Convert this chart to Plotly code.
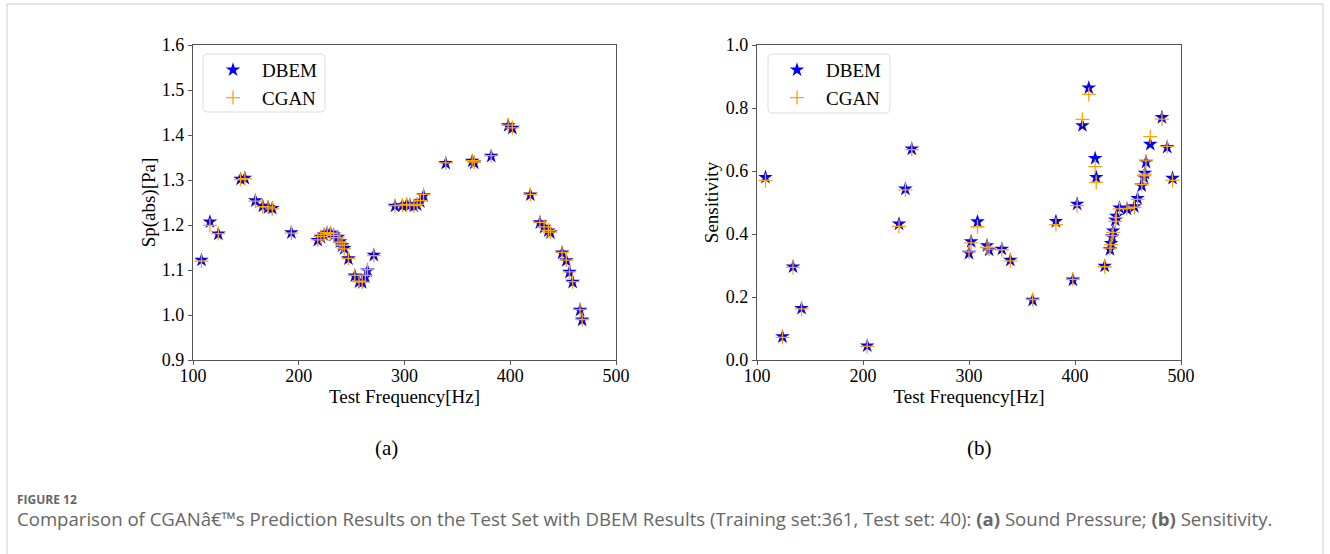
import plotly.graph_objects as go

# ---------------- data (a) Sound pressure ----------------
freq_a = [108, 116, 124, 145, 149, 159, 166, 171, 175, 193,
          218, 221, 224, 227, 230, 233, 237, 239, 241, 243,
          247, 253, 257, 260, 263, 265, 271, 291, 298, 302,
          305, 309, 312, 315, 318, 339, 364, 366, 382, 398,
          402, 419, 428, 432, 436, 438, 449, 453, 456, 459,
          466, 468]
sp_dbem = [1.122, 1.207, 1.180, 1.302, 1.304, 1.254, 1.242, 1.239, 1.237, 1.183,
           1.166, 1.173, 1.178, 1.182, 1.182, 1.178, 1.173, 1.163, 1.154, 1.148,
           1.125, 1.087, 1.074, 1.072, 1.085, 1.098, 1.133, 1.242, 1.243, 1.245,
           1.244, 1.242, 1.245, 1.252, 1.265, 1.337, 1.342, 1.338, 1.353, 1.421,
           1.415, 1.267, 1.205, 1.195, 1.187, 1.183, 1.138, 1.121, 1.095, 1.073,
           1.011, 0.989]
sp_cgan = [1.120, 1.199, 1.181, 1.301, 1.303, 1.253, 1.241, 1.240, 1.236, 1.182,
           1.167, 1.174, 1.179, 1.183, 1.181, 1.177, 1.172, 1.162, 1.155, 1.147,
           1.126, 1.088, 1.075, 1.073, 1.088, 1.101, 1.132, 1.243, 1.244, 1.246,
           1.245, 1.243, 1.246, 1.254, 1.268, 1.338, 1.343, 1.340, 1.354, 1.422,
           1.416, 1.268, 1.206, 1.196, 1.188, 1.184, 1.139, 1.122, 1.096, 1.074,
           1.012, 0.990]

# ---------------- data (b) Sensitivity ----------------
freq_b = [108, 124, 134, 142, 204, 234, 240, 246, 300, 302,
          308, 317, 319, 331, 339, 360, 382, 398, 402, 407,
          413, 419, 420, 428, 433, 434, 435, 436, 438, 439,
          442, 449, 456, 459, 463, 465, 466, 467, 471, 482,
          487, 492]
sens_dbem = [0.580, 0.074, 0.296, 0.164, 0.045, 0.432, 0.543, 0.670, 0.339, 0.376,
             0.439, 0.363, 0.349, 0.352, 0.317, 0.190, 0.440, 0.254, 0.495, 0.744,
             0.864, 0.640, 0.580, 0.298, 0.351, 0.370, 0.391, 0.410, 0.444, 0.457,
             0.483, 0.479, 0.487, 0.513, 0.553, 0.580, 0.593, 0.628, 0.685, 0.770,
             0.675, 0.577]
sens_cgan = [0.570, 0.072, 0.294, 0.162, 0.043, 0.424, 0.540, 0.668, 0.343, 0.372,
             0.423, 0.358, 0.352, 0.350, 0.315, 0.192, 0.430, 0.256, 0.490, 0.764,
             0.843, 0.614, 0.564, 0.296, 0.355, 0.366, 0.395, 0.405, 0.440, 0.452,
             0.480, 0.481, 0.485, 0.510, 0.557, 0.585, 0.590, 0.632, 0.709, 0.765,
             0.678, 0.570]

xticks = [100, 200, 300, 400, 500]
yticks_a = [0.9, 1.0, 1.1, 1.2, 1.3, 1.4, 1.5, 1.6]
yticks_b = [0.0, 0.2, 0.4, 0.6, 0.8, 1.0]

W, H = 1330, 554
SERIF = "Liberation Serif, Times New Roman, serif"
BLUE = "#0000FF"
ORANGE = "#FFA500"


def px(x):
    return x / W


def py(y):
    return 1 - y / H


fig = go.Figure()

star = dict(symbol="star", size=11, color=BLUE, line=dict(width=0))
plus = dict(symbol="cross-thin", size=10, color=ORANGE, line=dict(width=1.3, color=ORANGE))

fig.add_trace(go.Scatter(x=freq_a, y=sp_dbem, mode="markers", name="DBEM", marker=star,
                         xaxis="x", yaxis="y", legend="legend"))
fig.add_trace(go.Scatter(x=freq_a, y=sp_cgan, mode="markers", name="CGAN", marker=plus,
                         xaxis="x", yaxis="y", legend="legend"))
fig.add_trace(go.Scatter(x=freq_b, y=sens_dbem, mode="markers", name="DBEM", marker=star,
                         xaxis="x2", yaxis="y2", legend="legend2"))
fig.add_trace(go.Scatter(x=freq_b, y=sens_cgan, mode="markers", name="CGAN", marker=plus,
                         xaxis="x2", yaxis="y2", legend="legend2"))

axis_common = dict(showline=True, mirror=True, linecolor="#555555", linewidth=1.2,
                   ticks="outside", ticklen=4, tickwidth=1, tickcolor="#555555",
                   showgrid=False, zeroline=False, automargin=False,
                   tickfont=dict(family=SERIF, size=18, color="black"))

TF = dict(family=SERIF, size=19, color="black")
ydom = [py(360), py(45)]
fig.update_layout(
    width=W, height=H,
    autosize=False,
    margin=dict(l=0, r=0, t=0, b=0, pad=0, autoexpand=False),
    paper_bgcolor="white", plot_bgcolor="white",
    showlegend=True,
    xaxis=dict(domain=[px(193), px(616)], range=[100, 500], tickvals=xticks, anchor="y",
               ticklabelstandoff=-5,
               title=dict(text="Test Frequency[Hz]", font=TF, standoff=0), **axis_common),
    yaxis=dict(domain=ydom, range=[0.9, 1.6], tickvals=yticks_a, tickformat=".1f", anchor="x",
               title=dict(text="Sp(abs)[Pa]", font=TF, standoff=1), **axis_common),
    xaxis2=dict(domain=[px(757), px(1181)], range=[100, 500], tickvals=xticks, anchor="y2",
                ticklabelstandoff=-5,
                title=dict(text="Test Frequency[Hz]", font=TF, standoff=0), **axis_common),
    yaxis2=dict(domain=ydom, range=[0, 1.0], tickvals=yticks_b, tickformat=".1f", anchor="x2",
                title=dict(text="Sensitivity", font=TF, standoff=2), **axis_common),
    legend=dict(x=px(204), y=py(51), xanchor="left", yanchor="top",
                bgcolor="rgba(0,0,0,0)", borderwidth=0, tracegroupgap=0,
                font=dict(family=SERIF, size=19, color="black"), itemwidth=48),
    legend2=dict(x=px(768), y=py(51), xanchor="left", yanchor="top",
                 bgcolor="rgba(0,0,0,0)", borderwidth=0, tracegroupgap=0,
                 font=dict(family=SERIF, size=19, color="black"), itemwidth=48),
)


def rounded_rect(x0, y0, x1, y1, r):
    X0, X1 = px(x0), px(x1)
    Y0, Y1 = py(y0), py(y1)
    rx, ry = r / W, r / H
    return (f"M {X0+rx},{Y0} L {X1-rx},{Y0} Q {X1},{Y0} {X1},{Y0-ry} "
            f"L {X1},{Y1+ry} Q {X1},{Y1} {X1-rx},{Y1} L {X0+rx},{Y1} "
            f"Q {X0},{Y1} {X0},{Y1+ry} L {X0},{Y0-ry} Q {X0},{Y0} {X0+rx},{Y0} Z")


shapes = [
    dict(type="path", xref="paper", yref="paper", path=rounded_rect(203, 54, 325, 112, 4),
         line=dict(color="#DDDDDD", width=1), fillcolor="rgba(255,255,255,0.8)", layer="below"),
    dict(type="path", xref="paper", yref="paper", path=rounded_rect(768, 54, 890, 113, 4),
         line=dict(color="#DDDDDD", width=1), fillcolor="rgba(255,255,255,0.8)", layer="below"),
    # page frame
    dict(type="line", xref="paper", yref="paper", x0=px(7), x1=px(1323), y0=py(4), y1=py(4),
         line=dict(color="#CCCCCC", width=1)),
    dict(type="line", xref="paper", yref="paper", x0=px(7), x1=px(7), y0=py(4), y1=0,
         line=dict(color="#CCCCCC", width=1)),
    dict(type="line", xref="paper", yref="paper", x0=px(1323), x1=px(1323), y0=py(4), y1=0,
         line=dict(color="#CCCCCC", width=1)),
]
fig.update_layout(shapes=shapes)

annotations = [
    dict(text="(a)", x=px(386), y=py(448), xref="paper", yref="paper", showarrow=False,
         font=dict(family=SERIF, size=21, color="black"), xanchor="center", yanchor="middle"),
    dict(text="(b)", x=px(979), y=py(448), xref="paper", yref="paper", showarrow=False,
         font=dict(family=SERIF, size=21, color="black"), xanchor="center", yanchor="middle"),
    dict(text="<b>FIGURE 12</b>", x=px(15), y=py(499), xref="paper", yref="paper", showarrow=False,
         font=dict(family="Open Sans", size=12, color="#666666"), xanchor="left", yanchor="middle"),
    dict(text="Comparison of CGANâ€™s Prediction Results on the Test Set with DBEM Results "
              "(Training set:361, Test set: 40): <b>(a)</b> Sound Pressure; <b>(b)</b> Sensitivity.",
         x=px(15), y=py(518), xref="paper", yref="paper", showarrow=False,
         font=dict(family="Open Sans", size=18.6, color="#666666"), xanchor="left", yanchor="middle"),
]
fig.update_layout(annotations=annotations)

fig.write_html("out.html",
               post_script="document.body.style.margin='0';document.body.style.padding='0';"
                           "document.body.style.overflow='hidden';"
                           "document.documentElement.style.overflow='hidden';")
